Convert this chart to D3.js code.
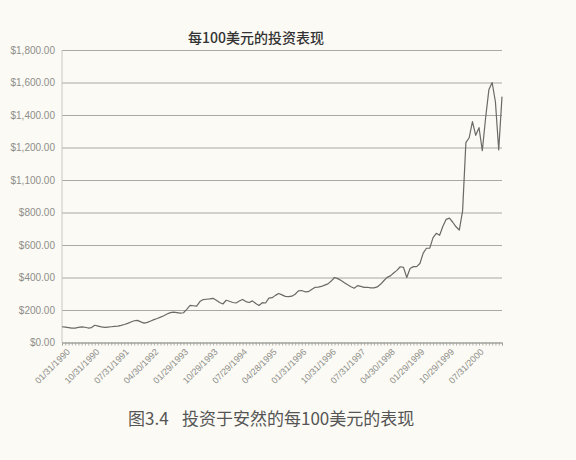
<!DOCTYPE html>
<html>
<head>
<meta charset="utf-8">
<script src="https://cdn.jsdelivr.net/npm/d3@7"></script>
<style>
  html, body { margin: 0; padding: 0; background: #fbfaf4; }
  svg { display: block; }
</style>
</head>
<body>
<svg id="chart" width="576" height="460"></svg>
<script>
// ---- data ----
const title = "每100美元的投资表现";
const captionNo = "图3.4";
const captionText = "投资于安然的每100美元的表现";

// monthly values (USD) starting 01/31/1990
const values = [
  97, 95, 92, 88, 89, 93, 96, 94, 89, 92,
  106, 101, 96, 93, 95, 97, 99, 101, 105, 111,
  118, 126, 134, 136, 127, 119, 124, 132, 141, 148,
  156, 165, 175, 184, 187, 184, 181, 183, 204, 228,
  226, 224, 252, 264, 266, 268, 272, 260, 246, 237,
  260, 254, 246, 243, 255, 265, 252, 246, 256, 240,
  228, 245, 243, 273, 276, 290, 302, 293, 284, 282,
  285, 297, 318, 320, 312, 313, 326, 339, 341, 345,
  353, 361, 378, 400, 393, 381, 368, 355, 343, 334,
  350, 345, 339, 340, 336, 336, 342, 358, 380, 401,
  410, 428, 444, 466, 462, 400, 455, 467, 467, 486,
  550, 580, 581, 645, 672, 660, 715, 758, 765, 740,
  712, 692, 810, 1230, 1260, 1359, 1275, 1322, 1180, 1380,
  1555, 1600, 1480, 1185, 1513
];

// x tick labels (every 9th month)
const xTickIndex = [0, 9, 18, 27, 36, 45, 54, 63, 72, 81, 90, 99, 108, 117, 126];
const xTickLabels = [
  "01/31/1990", "10/31/1990", "07/31/1991", "04/30/1992", "01/29/1993",
  "10/29/1993", "07/29/1994", "04/28/1995", "01/31/1996", "10/31/1996",
  "07/31/1997", "04/30/1998", "01/29/1999", "10/29/1999", "07/31/2000"
];

// y ticks and their printed labels
const yTicks = [0, 200, 400, 600, 800, 1000, 1200, 1400, 1600, 1800];
const yTickLabels = [
  "$0.00", "$200.00", "$400.00", "$600.00", "$800.00",
  "$1,100.00", "$1,200.00", "$1,400.00", "$1,600.00", "$1,800.00"
];

// ---- layout ----
const mLeft = 62, mRight = 502, mTop = 50, mBottom = 342.5;
const svg = d3.select("#chart");
const font = "Liberation Sans, Arial, sans-serif";
const cjk = "Noto Sans CJK SC, sans-serif";

const x = d3.scaleLinear().domain([0, values.length - 1]).range([mLeft, mRight]);
const y = d3.scaleLinear().domain([0, 1800]).range([mBottom, mTop]);

// gridlines + y labels
const yAxis = svg.append("g")
  .attr("transform", `translate(${mLeft},0)`)
  .call(d3.axisLeft(y)
    .tickValues(yTicks)
    .tickSize(-(mRight - mLeft))
    .tickPadding(7)
    .tickFormat((d, i) => yTickLabels[i]));
yAxis.select(".domain").remove();
yAxis.selectAll(".tick line").attr("stroke", "#a8a8a4").attr("stroke-width", 1);
yAxis.selectAll(".tick text")
  .attr("fill", "#8e8e8a")
  .style("font-family", font)
  .style("font-size", "10px");

// left vertical axis line
svg.append("line")
  .attr("x1", mLeft).attr("x2", mLeft)
  .attr("y1", mTop).attr("y2", mBottom)
  .attr("stroke", "#c8c8c4").attr("stroke-width", 1);

// bottom axis with minor ticks for every month
const xMinor = svg.append("g")
  .attr("transform", `translate(0,${mBottom})`)
  .call(d3.axisBottom(x)
    .tickValues(d3.range(values.length))
    .tickSize(3)
    .tickFormat(""));
xMinor.select(".domain").attr("stroke", "#a0a09c");
xMinor.selectAll(".tick line").attr("stroke", "#a0a09c").attr("stroke-width", 0.8);

// x labels
const xLab = svg.append("g")
  .attr("transform", `translate(0,${mBottom})`)
  .call(d3.axisBottom(x)
    .tickValues(xTickIndex)
    .tickSize(0)
    .tickFormat((d, i) => xTickLabels[i]));
xLab.select(".domain").remove();
xLab.selectAll(".tick text")
  .attr("fill", "#8e8e8a")
  .style("font-family", font)
  .style("font-size", "9px")
  .attr("text-anchor", "end")
  .attr("dy", "0")
  .attr("y", 0)
  .attr("transform", "translate(8,10) rotate(-45)");

// line
const line = d3.line()
  .x((d, i) => x(i))
  .y(d => y(d));
svg.append("path")
  .datum(values)
  .attr("d", line)
  .attr("fill", "none")
  .attr("stroke", "#6a6a66")
  .attr("stroke-width", 1.2)
  .attr("stroke-linejoin", "round");

// title
svg.append("text")
  .attr("x", 256).attr("y", 43)
  .attr("text-anchor", "middle")
  .attr("fill", "#333")
  .style("font-family", cjk)
  .style("font-size", "14px")
  .style("font-weight", "500")
  .text(title);

// caption
svg.append("text")
  .attr("x", 128).attr("y", 425)
  .attr("fill", "#555")
  .style("font-family", cjk)
  .style("font-size", "17px")
  .text(captionNo);
svg.append("text")
  .attr("x", 182).attr("y", 425)
  .attr("fill", "#555")
  .style("font-family", cjk)
  .style("font-size", "17px")
  .text(captionText);
</script>
</body>
</html>
